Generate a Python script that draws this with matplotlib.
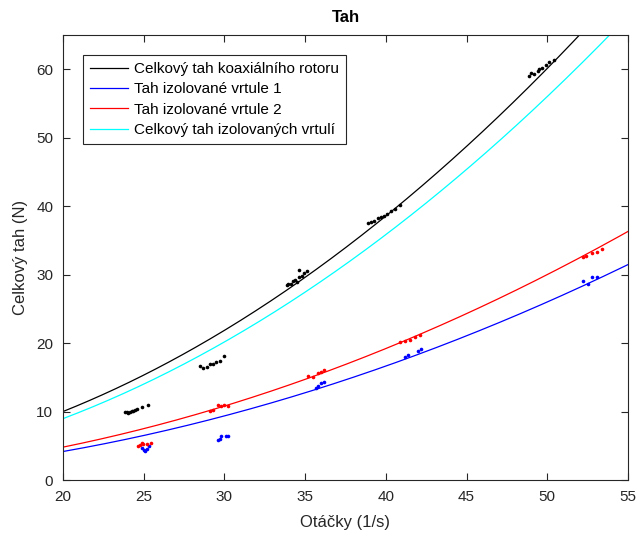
import matplotlib
matplotlib.use("Agg")
import matplotlib.pyplot as plt
import numpy as np

plt.rcParams['font.family'] = ['Liberation Sans', 'DejaVu Sans']

# measured points (otacky [1/s], tah [N])
koax_n = [23.84, 23.94, 24.05, 24.15, 24.26, 24.36, 24.46, 24.57, 24.88, 25.25,
          28.5, 28.7, 28.9, 29.1, 29.3, 29.5, 29.7, 30.0,
          33.86, 33.96, 34.1, 34.23, 34.37, 34.48, 34.6, 34.64, 34.79, 34.93, 35.14,
          38.9, 39.1, 39.3, 39.5, 39.7, 39.9, 40.1, 40.3, 40.6, 40.9,
          48.9, 49.0, 49.2, 49.4, 49.5, 49.7, 49.9, 50.1, 50.4]
koax_T = [9.91, 10.0, 9.85, 9.95, 10.1, 10.15, 10.25, 10.35, 10.73, 10.98,
          16.6, 16.3, 16.5, 16.9, 17.0, 17.2, 17.4, 18.1,
          28.54, 28.68, 28.64, 29.02, 29.27, 28.87, 30.63, 29.66, 29.85, 30.25, 30.48,
          37.6, 37.7, 37.9, 38.2, 38.4, 38.6, 38.9, 39.3, 39.6, 40.1,
          59.0, 59.5, 59.3, 59.8, 60.0, 60.2, 60.6, 61.0, 61.4]

v1_n = [24.9, 25.0, 25.1, 25.2, 25.3,
        29.6, 29.7, 29.8, 30.1, 30.2,
        35.7, 35.8, 36.0, 36.2,
        41.2, 41.4, 42.0, 42.2,
        52.2, 52.5, 52.8, 53.1]
v1_T = [4.7, 4.4, 4.3, 4.6, 4.9,
        5.8, 6.0, 6.5, 6.4, 6.4,
        13.5, 13.7, 14.1, 14.3,
        18.0, 18.2, 18.9, 19.1,
        29.0, 28.7, 29.6, 29.6]

v2_n = [24.67, 24.77, 24.88, 24.98, 25.19, 25.43,
        29.1, 29.3, 29.6, 29.8, 30.0, 30.2,
        35.2, 35.5, 35.8, 36.0, 36.2,
        40.9, 41.2, 41.5, 41.8, 42.1,
        52.2, 52.4, 52.8, 53.1, 53.4]
v2_T = [4.97, 5.12, 5.37, 5.22, 5.27, 5.37,
        10.1, 10.2, 10.9, 10.8, 10.9, 10.8,
        15.2, 15.0, 15.6, 15.8, 16.0,
        20.2, 20.3, 20.4, 20.9, 21.2,
        32.6, 32.7, 33.2, 33.3, 33.8]

koax_fit = [0.02424, -0.0266, 0.836]
v1_fit = [0.0104, 0.0, 0.0]
v2_fit = [0.0120, 0.0, 0.0]

n = np.linspace(20, 55, 300)
T_koax = np.polyval(koax_fit, n)
T_v1 = np.polyval(v1_fit, n)
T_v2 = np.polyval(v2_fit, n)
T_sum = T_v1 + T_v2

fig = plt.figure(figsize=(6.38, 5.35), dpi=100)
ax = fig.add_axes([0.0987, 0.1028, 0.8855, 0.8318])

ax.plot(n, T_koax, color='#000000', lw=0.9, label='Celkový tah koaxiálního rotoru')
ax.plot(n, T_v1, color='#0000FF', lw=0.9, label='Tah izolované vrtule 1')
ax.plot(n, T_v2, color='#FF0000', lw=0.9, label='Tah izolované vrtule 2')
ax.plot(n, T_sum, color='#00FFFF', lw=0.9, label='Celkový tah izolovaných vrtulí')

ax.plot(koax_n, koax_T, 'o', color='#000000', ms=2.6, mew=0)
ax.plot(v1_n, v1_T, 'o', color='#0000FF', ms=2.6, mew=0)
ax.plot(v2_n, v2_T, 'o', color='#FF0000', ms=2.6, mew=0)

ax.set_xlim(20, 55)
ax.set_ylim(0, 65)
ax.set_xticks(range(20, 56, 5))
ax.set_yticks(range(0, 61, 10))
ax.tick_params(direction='in', top=True, right=True, labelsize=11, colors='#262626',
               length=5, pad=7)
for s in ax.spines.values():
    s.set_color('#262626')
    s.set_linewidth(0.8)

ax.set_xlabel('Otáčky (1/s)', fontsize=12, color='#262626', labelpad=8)
ax.set_ylabel('Celkový tah (N)', fontsize=12, color='#262626', labelpad=6)
ax.set_title('Tah', fontsize=12, fontweight='bold', pad=9)

leg = ax.legend(loc='upper left', bbox_to_anchor=(0.035, 0.955), borderaxespad=0,
                fontsize=11, fancybox=False, edgecolor='#262626', framealpha=1,
                handlelength=2.5, borderpad=0.45, labelspacing=0.42, handletextpad=0.4)
leg.get_frame().set_linewidth(0.8)

fig.savefig('out.png', dpi=100)
